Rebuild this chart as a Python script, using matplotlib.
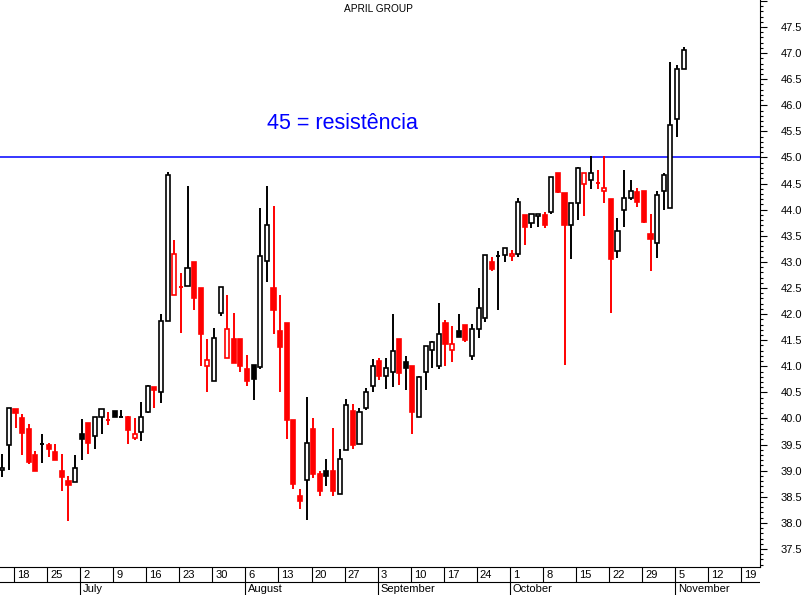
import matplotlib
matplotlib.use("Agg")
import matplotlib.pyplot as plt
from matplotlib.patches import Rectangle
import numpy as np
import pandas as pd

plt.rcParams['font.family'] = ['Liberation Sans', 'DejaVu Sans']

title = "APRIL GROUP"
first_day = "2007-06-14"
last_axis_day = "2007-11-23"

opens = [39.01, 39.49, 40.18, 40.00, 39.79, 39.30, 39.52, 39.50, 39.36, 38.99,
         38.80, 38.79, 39.70, 39.91, 39.66, 40.02, 39.97, 40.14, 40.02, 40.02,
         39.62, 39.74, 40.13, 40.60, 40.50, 41.86, 42.36, 42.51, 42.53, 43.00,
         42.50, 41.00, 40.72, 42.02, 41.15, 41.52, 41.52, 40.95, 41.02, 40.99,
         43.01, 42.50, 41.68, 41.83, 39.97, 38.52, 38.82, 39.80, 38.94, 38.99,
         38.99, 38.55, 39.39, 40.14, 39.51, 40.20, 40.62, 41.10, 40.81, 40.90,
         41.52, 41.08, 41.00, 40.02, 40.90, 41.31, 41.00, 41.83, 41.31, 41.67,
         41.79, 41.19, 41.71, 41.92, 43.00, 43.12, 43.13, 43.11, 43.16, 43.89,
         43.74, 43.88, 43.89, 43.96, 44.70, 44.32, 43.70, 44.12, 44.49, 44.56,
         44.52, 44.35, 44.20, 43.20, 43.99, 44.22, 44.33, 44.35, 43.53, 43.36,
         44.35, 44.03, 45.74, 46.69]
highs = [39.32, 40.20, 40.18, 40.09, 39.89, 39.38, 39.70, 39.53, 39.51, 39.32,
         38.89, 39.30, 39.99, 39.91, 40.02, 40.18, 40.12, 40.14, 40.16, 40.05,
         40.00, 40.31, 40.65, 40.60, 42.00, 44.73, 43.42, 42.78, 44.45, 43.00,
         42.50, 41.52, 41.73, 42.51, 42.37, 42.02, 41.52, 41.22, 41.02, 44.03,
         44.45, 44.07, 42.37, 41.83, 39.97, 38.65, 40.41, 40.01, 38.99, 39.22,
         39.82, 39.41, 40.37, 40.28, 40.20, 40.58, 41.14, 41.15, 41.15, 42.00,
         41.52, 41.20, 41.00, 40.81, 41.38, 41.49, 42.21, 41.88, 41.77, 42.00,
         41.79, 41.81, 42.50, 43.13, 43.09, 43.21, 43.26, 43.23, 44.22, 43.89,
         43.91, 43.92, 43.96, 44.62, 44.70, 44.32, 44.12, 44.82, 44.70, 45.02,
         44.76, 45.02, 44.20, 43.84, 44.76, 44.57, 44.41, 44.35, 43.92, 44.35,
         44.70, 46.82, 46.77, 47.11]
lows = [38.87, 39.02, 39.82, 39.31, 39.12, 39.00, 39.15, 39.27, 39.21, 38.62,
        38.04, 38.79, 39.21, 39.32, 39.42, 39.70, 39.88, 40.02, 40.02, 39.52,
        39.58, 39.56, 40.10, 40.21, 40.30, 41.86, 42.36, 41.63, 42.53, 42.07,
        41.01, 40.51, 40.72, 41.97, 41.15, 41.07, 40.90, 40.63, 40.36, 40.95,
        42.62, 41.61, 40.51, 39.60, 38.65, 38.27, 38.06, 38.86, 38.52, 38.71,
        38.52, 38.55, 39.39, 39.42, 39.51, 40.16, 40.51, 40.73, 40.57, 40.61,
        40.64, 40.55, 39.71, 40.02, 40.55, 40.97, 40.94, 41.01, 41.09, 41.57,
        41.47, 41.13, 41.55, 41.84, 42.83, 42.07, 43.00, 43.02, 43.10, 43.32,
        43.64, 43.66, 43.64, 43.92, 44.32, 41.03, 43.05, 43.80, 43.87, 44.40,
        44.40, 44.12, 42.03, 43.08, 43.66, 44.18, 44.05, 43.75, 42.83, 43.08,
        43.99, 44.03, 45.40, 46.69]
closes = [39.06, 40.20, 40.11, 39.73, 39.17, 39.00, 39.52, 39.42, 39.21, 38.87,
          38.73, 39.06, 39.61, 39.54, 40.02, 40.18, 39.97, 40.02, 40.02, 39.77,
          39.70, 40.02, 40.62, 40.55, 41.86, 44.66, 43.15, 42.51, 42.88, 42.30,
          41.61, 41.13, 41.55, 42.51, 41.71, 41.07, 41.01, 40.71, 40.76, 43.11,
          43.70, 42.07, 41.36, 39.98, 38.75, 38.41, 39.54, 38.94, 38.62, 38.89,
          38.62, 39.22, 40.25, 39.50, 40.12, 40.50, 41.00, 40.82, 40.97, 41.29,
          40.88, 40.96, 40.13, 40.79, 41.38, 41.46, 41.62, 41.43, 41.42, 41.57,
          41.51, 41.71, 42.11, 43.13, 42.87, 43.12, 43.26, 43.16, 44.14, 43.66,
          43.91, 43.92, 43.71, 44.62, 44.34, 43.71, 44.12, 44.79, 44.70, 44.71,
          44.52, 44.41, 43.06, 43.59, 44.22, 44.35, 44.15, 43.77, 43.43, 44.29,
          44.66, 45.62, 46.69, 47.05]

resistance = 45.0
resistance_label = "45 = resistência"
month_names = {7: "July", 8: "August", 9: "September", 10: "October", 11: "November"}

days = pd.bdate_range(first_day, periods=len(closes))
axis_days = pd.bdate_range(first_day, last_axis_day)

fig = plt.figure(figsize=(8.06, 5.95), dpi=100)
ax = fig.add_axes([0, 28 / 595, 760 / 806, 567 / 595])

w = 0.62
for i in range(len(closes)):
    o, h, l, c = opens[i], highs[i], lows[i], closes[i]
    # red when close is below previous close, filled when close below open
    col = 'red' if i > 0 and c < closes[i - 1] else 'black'
    ax.vlines(i, l, h, color=col, lw=1.4, zorder=2)
    if abs(c - o) < 0.005:
        ax.hlines(c, i - w / 2, i + w / 2, color=col, lw=1.4, zorder=3)
    else:
        face = col if c < o else 'white'
        ax.add_patch(Rectangle((i - w / 2, min(o, c)), w, abs(c - o),
                               facecolor=face, edgecolor=col, lw=1.2, zorder=3))

ax.axhline(resistance, color='#0000ff', lw=1.1, zorder=1)
ax.text(40.0, 45.66, resistance_label, color='#0000ff', fontsize=15.5,
        va='center', ha='left')
ax.text(0.498, 1 - 9 / 567, title, transform=ax.transAxes, ha='center',
        va='center', fontsize=7.3)

ax.set_xlim(-0.35, 114.55)
ax.set_ylim(37.155, 48.017)
ax.spines['left'].set_visible(False)
ax.spines['top'].set_visible(False)
ax.set_xticks([])
ax.yaxis.tick_right()
yt = np.arange(37.5, 48.01, 0.5)
ax.set_yticks(yt)
ax.set_yticklabels(['%.1f' % v if v < 47.9 else '' for v in yt])
ax.set_yticks(np.arange(37.2, 48.01, 0.1), minor=True)
ax.tick_params(axis='y', which='major', direction='out', length=5, width=0.8,
               pad=10, labelsize=8)
ax.tick_params(axis='y', which='minor', direction='out', length=2.5, width=0.8)

# date strip under the chart
dax = fig.add_axes([0, 0, 760 / 806, 28 / 595])
dax.set_xlim(ax.get_xlim())
dax.set_ylim(0, 28)
dax.axis('off')
dax.axhline(13, color='black', lw=0.8)
for k, d in enumerate(axis_days):
    if d.weekday() != 0:
        continue
    x = k - 0.25
    first_monday = d.day <= 7
    dax.vlines(x, 0 if first_monday else 13, 28, color='black', lw=0.8)
    dax.text(x + 0.45, 20.5, str(d.day), fontsize=8, va='center', ha='left')
    if first_monday and d.month in month_names:
        dax.text(x + 0.45, 6, month_names[d.month], fontsize=8, va='center', ha='left')

fig.savefig("out.png", dpi=100)
